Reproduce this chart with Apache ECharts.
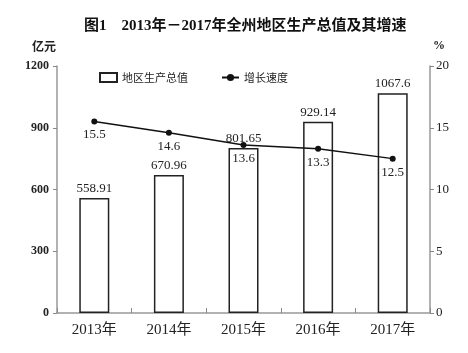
<!DOCTYPE html>
<html><head><meta charset="utf-8">
<script src="https://cdn.jsdelivr.net/npm/echarts@6/dist/echarts.min.js"></script>
<style>html,body{margin:0;padding:0;background:#fff;}#c{width:468px;height:353px;}</style>
</head><body><div id="c"></div>
<script>
const categories = ['2013年','2014年','2015年','2016年','2017年'];
const gdpValues = [558.91, 670.96, 801.65, 929.14, 1067.6];
const gdpLabels = ['558.91','670.96','801.65','929.14','1067.6'];
const growthValues = [15.5, 14.6, 13.6, 13.3, 12.5];
const leftTicks = [0, 300, 600, 900, 1200];
const rightTicks = [0, 5, 10, 15, 20];

const serif = '"Liberation Serif", "Noto Sans CJK SC", serif';
const chart = echarts.init(document.getElementById('c'));
chart.setOption({
  animation: false,
  backgroundColor: '#fff',
  title: {
    text: '图1　2013年－2017年全州地区生产总值及其增速',
    left: 79, top: 14,
    textStyle: {fontFamily: serif, fontSize: 15, fontWeight: 'bold', color: '#111'}
  },
  legend: {
    left: 94, top: 67, itemGap: 33, itemWidth: 17, itemHeight: 9,
    textStyle: {fontFamily: '"Noto Sans CJK SC"', fontSize: 11, color: '#222'},
    data: [
      {name: '地区生产总值', icon: 'rect'},
      {name: '增长速度'}
    ]
  },
  grid: {left: 57, right: 38, top: 66, bottom: 40},
  xAxis: {
    type: 'category', data: categories,
    axisLine: {lineStyle: {color: '#999', width: 1.5}},
    axisTick: {show: true, inside: true, length: 5, lineStyle: {color: '#888'}},
    axisLabel: {fontFamily: serif, fontSize: 15, color: '#222', margin: 10}
  },
  yAxis: [
    {
      type: 'value', min: leftTicks[0], max: leftTicks[leftTicks.length-1], interval: 300,
      name: '亿元', nameLocation: 'end', nameGap: 14,
      nameTextStyle: {fontFamily: '"Noto Sans CJK SC"', fontWeight: 'bold', fontSize: 12, color: '#222', padding: [0, 26, 0, 0]},
      axisLine: {show: true, lineStyle: {color: '#999', width: 1.5}},
      axisTick: {show: true, length: 4, lineStyle: {color: '#888'}},
      axisLabel: {fontFamily: serif, fontWeight: 'bold', fontSize: 12, color: '#222', margin: 8,
        formatter: v => String(v)},
      splitLine: {show: false}
    },
    {
      type: 'value', min: rightTicks[0], max: rightTicks[rightTicks.length-1], interval: 5,
      name: '%', nameLocation: 'end', nameGap: 14,
      nameTextStyle: {fontFamily: serif, fontWeight: 'bold', fontSize: 12, color: '#222', padding: [0, 0, 0, 18]},
      axisLine: {show: true, lineStyle: {color: '#999', width: 1.5}},
      axisTick: {show: true, length: 4, lineStyle: {color: '#888'}},
      axisLabel: {fontFamily: serif, fontSize: 13, color: '#222', margin: 6},
      splitLine: {show: false}
    }
  ],
  series: [
    {
      name: '地区生产总值', type: 'bar', data: gdpValues, barWidth: 30,
      itemStyle: {color: '#fff', borderColor: '#222', borderWidth: 1.5},
      label: {show: true, position: 'top', distance: 3, fontFamily: serif, fontSize: 13, color: '#222',
        formatter: p => gdpLabels[p.dataIndex]}
    },
    {
      name: '增长速度', type: 'line', yAxisIndex: 1, data: growthValues,
      symbol: 'circle', symbolSize: 6,
      lineStyle: {color: '#111', width: 1.5}, itemStyle: {color: '#111'},
      label: {show: true, position: 'bottom', distance: 4, fontFamily: serif, fontSize: 13, color: '#222'}
    }
  ]
});
</script></body></html>
